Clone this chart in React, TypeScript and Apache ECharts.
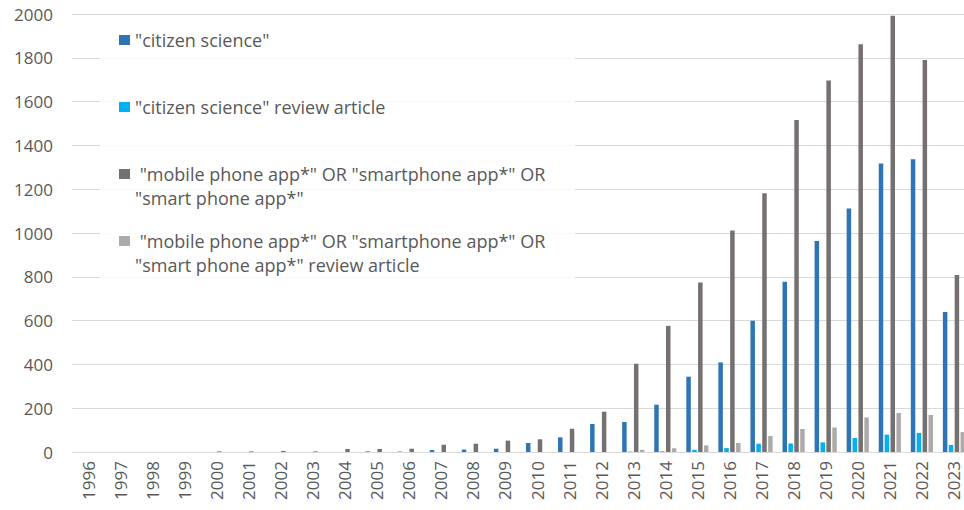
import React, { useEffect, useRef } from "react";
import * as echarts from "echarts";

const years = [
  "1996", "1997", "1998", "1999", "2000", "2001", "2002", "2003", "2004", "2005",
  "2006", "2007", "2008", "2009", "2010", "2011", "2012", "2013", "2014", "2015",
  "2016", "2017", "2018", "2019", "2020", "2021", "2022", "2023",
];

const citizenScience = [
  0, 0, 0, 0, 0, 0, 0, 0, 0, 3,
  2, 9, 11, 15, 41, 67, 128, 137, 216, 344,
  409, 599, 777, 964, 1112, 1317, 1337, 639,
];

const citizenScienceReview = [
  0, 0, 0, 0, 0, 0, 0, 0, 0, 0,
  0, 0, 0, 0, 0, 0, 0, 2, 3, 10,
  18, 38, 39, 44, 64, 79, 87, 32,
];

const phoneApp = [
  0, 0, 0, 0, 3, 3, 5, 3, 14, 14,
  15, 33, 38, 52, 58, 106, 184, 403, 576, 774,
  1011, 1182, 1516, 1696, 1862, 1992, 1790, 808,
];

const phoneAppReview = [
  0, 0, 0, 0, 0, 0, 0, 0, 0, 0,
  0, 0, 0, 0, 0, 0, 0, 10, 17, 30,
  41, 73, 105, 112, 158, 178, 169, 91,
];

const seriesNames = [
  '"citizen science"',
  '"citizen science" review article',
  ' "mobile phone app*" OR "smartphone app*" OR\n"smart phone app*"',
  ' "mobile phone app*" OR "smartphone app*" OR\n"smart phone app*" review article',
];

const colors = ["#2E75B6", "#00B0F0", "#767171", "#AEAAAA"];

const FONT = "'Open Sans', 'Noto Sans', sans-serif";
const TEXT_COLOR = "#595959";

export default function App() {
  const ref = useRef<HTMLDivElement>(null);

  useEffect(() => {
    if (!ref.current) return;
    const chart = echarts.init(ref.current, null, { renderer: "svg" });
    const dataSets = [citizenScience, citizenScienceReview, phoneApp, phoneAppReview];
    chart.setOption({
      animation: false,
      backgroundColor: "#ffffff",
      textStyle: { fontFamily: FONT },
      grid: { left: 72, right: 0, top: 14, bottom: 58, containLabel: false },
      graphic: [
        {
          type: "rect",
          z: 1,
          silent: true,
          shape: { x: 100, y: 20, width: 475, height: 268 },
          style: { fill: "rgba(255,255,255,0.85)" },
        },
      ],
      legend: {
        orient: "vertical",
        left: 119,
        top: 4,
        padding: 0,
        itemWidth: 11,
        itemHeight: 10,
        itemGap: -5,
        icon: "rect",
        textStyle: {
          fontFamily: FONT,
          fontSize: 18,
          color: TEXT_COLOR,
          lineHeight: 24,
        },
        formatter: (name: string) =>
          name.indexOf("\n") >= 0 ? "\n" + name : "\n" + name + "\n",
        data: seriesNames,
      },
      xAxis: {
        type: "category",
        data: years,
        axisLine: { show: true, lineStyle: { color: "#D9D9D9", width: 1 } },
        axisTick: { show: false },
        axisLabel: {
          rotate: 90,
          interval: 0,
          margin: 9,
          fontFamily: FONT,
          fontSize: 17,
          color: TEXT_COLOR,
        },
      },
      yAxis: {
        type: "value",
        min: 0,
        max: 2000,
        interval: 200,
        axisLine: { show: false },
        axisTick: { show: false },
        splitLine: { lineStyle: { color: "#D9D9D9", width: 1 } },
        axisLabel: {
          margin: 19,
          fontFamily: FONT,
          fontSize: 17,
          color: TEXT_COLOR,
          formatter: (v: number) => String(v),
        },
      },
      series: dataSets.map((d, i) => ({
        name: seriesNames[i],
        type: "bar",
        data: d,
        barWidth: 4.5,
        barGap: "31%",
        itemStyle: { color: colors[i] },
      })),
    });
    return () => chart.dispose();
  }, []);

  return (
    <div
      style={{
        position: "fixed",
        left: 0,
        top: 0,
        width: 964,
        height: 510,
        overflow: "hidden",
        background: "#ffffff",
      }}
    >
      <div ref={ref} style={{ width: 970, height: 510 }} />
    </div>
  );
}
